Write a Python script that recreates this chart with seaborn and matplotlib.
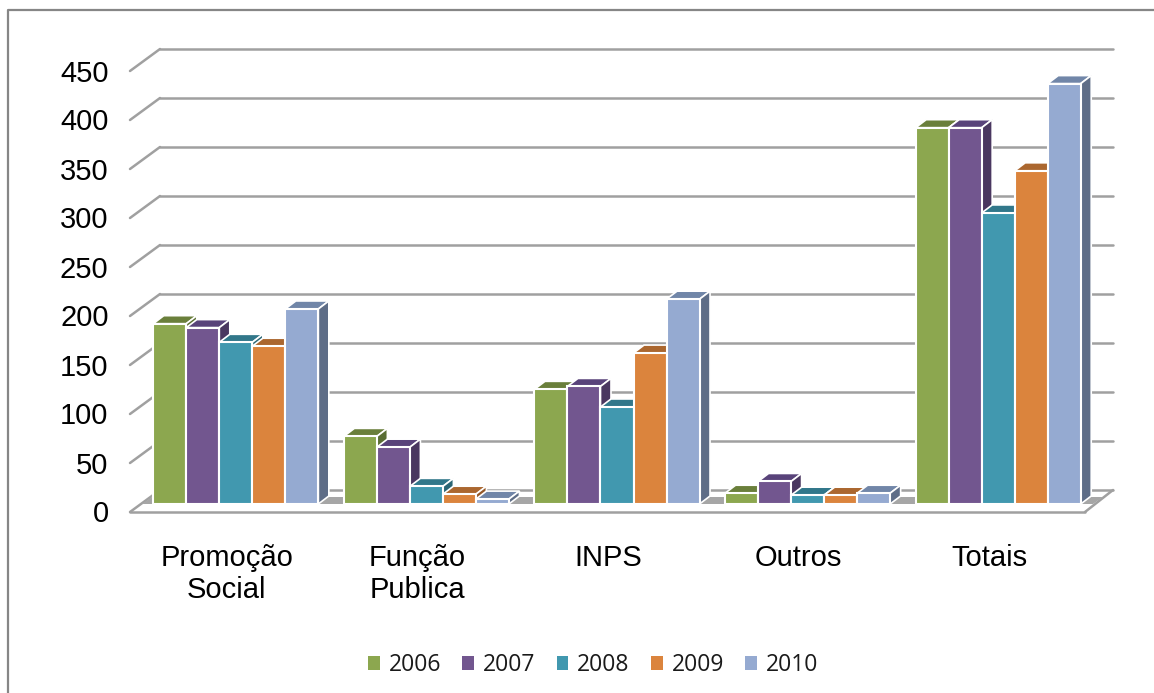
import matplotlib
matplotlib.use("Agg")
import matplotlib.pyplot as plt
from matplotlib.lines import Line2D
from matplotlib.patches import Polygon
from matplotlib.transforms import ScaledTranslation
import pandas as pd
import seaborn as sns

categories = ["Promoção\nSocial", "Função\nPublica", "INPS", "Outros", "Totais"]
years = ["2006", "2007", "2008", "2009", "2010"]
v2006 = [184, 69, 117, 11, 384]
v2007 = [180, 58, 120, 23, 384]
v2008 = [165, 18, 99, 9, 297]
v2009 = [161, 10, 154, 9, 340]
v2010 = [199, 5, 209, 11, 429]
series = [v2006, v2007, v2008, v2009, v2010]
y_ticks = list(range(0, 451, 50))

front_colors = ["#8CA74F", "#72568F", "#4198AF", "#DB843D", "#95AAD1"]
top_colors = ["#6A7F3B", "#59437A", "#31778A", "#AB672F", "#7186A8"]
side_colors = ["#5A6E33", "#4A3760", "#2A6675", "#945829", "#5E6D87"]
GRID = "#A0A0A0"

df = pd.DataFrame({
    "cat": [c for _ in years for c in categories],
    "year": [y for y in years for _ in categories],
    "value": [v for s in series for v in s],
})

sns.set_theme(style="white")
plt.rcParams["font.family"] = ["Liberation Sans", "DejaVu Sans"]

W, H = 1154, 693
AX_W = 953
fig = plt.figure(figsize=(W / 100, H / 100), dpi=100, facecolor="white")
ax = fig.add_axes([140.5 / W, (H - 504) / H, AX_W / W, 441 / H])

sns.barplot(data=df, x="cat", y="value", hue="year", order=categories, hue_order=years,
            palette=front_colors, width=0.866, gap=0, errorbar=None,
            edgecolor="white", linewidth=1.5, saturation=1, ax=ax)
ax.set_xlim(-0.5, 4.5)
ax.set_ylim(0, 450)
ax.set_xlabel("")
ax.set_ylabel("")
for s in ax.spines.values():
    s.set_visible(False)
ax.patch.set_alpha(0)

PX_X = 5 / AX_W
PX_Y = 450 / 441


def px(dx, dy):
    """pixel depth offset (right, up) to data units"""
    return dx * PX_X, dy * PX_Y


def line(xs, ys):
    ax.add_line(Line2D(xs, ys, color=GRID, lw=1.8, zorder=1, clip_on=False,
                       solid_capstyle="round"))


# depth geometry of the 3D walls
fx, fy = px(-10.5, -8)
frx, _ = px(-8.5, 0)
bx, by = px(19.5, 14)
for v in y_ticks:
    line([-0.5 + fx, -0.5 + bx], [v + fy, v + by])
    line([-0.5 + bx, 4.5 + bx], [v + by, v + by])
line([-0.5 + fx, 4.5 + frx], [fy, fy])
line([4.5 + frx, 4.5 + bx], [fy, by])

gx, gy = px(10, 7)
x0, _ = px(1.5, 0)
x1, _ = px(-0.5, 0)
ax.add_patch(Polygon([(-0.5 + x0, 0), (-0.5 + x0 + gx, gy), (4.5 + x1 + gx, gy), (4.5 + x1, 0)],
                     closed=True, fc="#A6A6A6", ec="none", zorder=1.5, clip_on=False))

# bars with depth
dx, dy = px(10.5, 8)
for i, cont in enumerate(ax.containers):
    for bar in cont:
        x, w, h = bar.get_x(), bar.get_width(), bar.get_height()
        bar.set_zorder(4 + 2 * i)
        bar.set_clip_on(False)
        ax.add_patch(Polygon([(x, h), (x + w, h), (x + w + dx, h + dy), (x + dx, h + dy)],
                             closed=True, fc=top_colors[i], ec="white", lw=1.2,
                             zorder=3 + 2 * i, clip_on=False))
        ax.add_patch(Polygon([(x + w, 0), (x + w, h), (x + w + dx, h + dy), (x + w + dx, dy)],
                             closed=True, fc=side_colors[i], ec="white", lw=1.2,
                             zorder=3 + 2 * i, clip_on=False))

# axis labels
ax.set_yticks(y_ticks)
ax.set_yticklabels([str(v) for v in y_ticks])
ax.tick_params(axis="y", length=0, pad=23, labelsize=21, labelcolor="black")
ax.tick_params(axis="x", length=0, pad=28.5, labelsize=21, labelcolor="black")
for lab in ax.get_yticklabels():
    lab.set_transform(lab.get_transform() + ScaledTranslation(0, -7.5 / 100, fig.dpi_scale_trans))
for lab in ax.get_xticklabels():
    lab.set_linespacing(1.18)
    lab.set_transform(lab.get_transform() + ScaledTranslation(-9 / 100, 0, fig.dpi_scale_trans))

# legend
handles = [c[0] for c in ax.containers]
leg = ax.legend(handles, years, loc="center", bbox_to_anchor=(593 / W, (H - 665) / H),
                bbox_transform=fig.transFigure, ncol=5, frameon=False, borderpad=0,
                handlelength=0.52, handleheight=0.52, handletextpad=0.38, columnspacing=0.93,
                prop={"family": "Open Sans", "size": 16.5}, labelcolor="#1A1A1A")
for h in leg.legend_handles:
    h.set_linewidth(0)

# chart frame
fig.add_artist(Line2D([8 / W, 8 / W, 1], [0, (H - 10) / H, (H - 10) / H],
                      color="#868686", lw=1.6, transform=fig.transFigure))

fig.savefig("out.png", dpi=100)
